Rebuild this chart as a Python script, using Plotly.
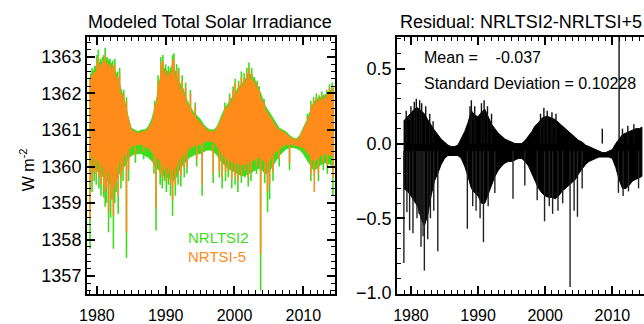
import plotly.graph_objects as go

# ---------------- data ----------------
years = [1978.9, 1979.5,
         1980.0, 1980.5, 1981.0, 1981.5, 1982.0, 1982.5, 1983.0, 1983.5, 1984.0, 1984.5,
         1985.0, 1985.5, 1986.0, 1986.5, 1987.0, 1987.5, 1988.0, 1988.5, 1989.0, 1989.5,
         1990.0, 1990.5, 1991.0, 1991.5, 1992.0, 1992.5, 1993.0, 1993.5, 1994.0, 1994.5,
         1995.0, 1995.5, 1996.0, 1996.5, 1997.0, 1997.5, 1998.0, 1998.5, 1999.0, 1999.5,
         2000.0, 2000.5, 2001.0, 2001.5, 2002.0, 2002.5, 2003.0, 2003.5, 2004.0, 2004.5,
         2005.0, 2005.5, 2006.0, 2006.5, 2007.0, 2007.5, 2008.0, 2008.5, 2009.0, 2009.5,
         2010.0, 2010.5, 2011.0, 2011.5, 2012.0, 2012.5, 2013.0, 2013.5, 2014.0, 2014.4]

# NRLTSI2 (green) daily-spread envelope, W m-2
nrltsi2_upper = [1362.4, 1362.6,
    1362.8, 1362.85, 1362.9, 1362.95, 1362.85, 1362.7, 1362.45, 1362.15, 1361.8, 1361.4,
    1361.05, 1361.0, 1360.95, 1361.0, 1361.0, 1361.1, 1361.3, 1361.65, 1362.2, 1362.75,
    1362.65, 1362.55, 1362.8, 1362.55, 1362.3, 1362.15, 1361.85, 1361.65, 1361.5, 1361.4,
    1361.3, 1361.15, 1361.05, 1361.0, 1361.0, 1361.1, 1361.35, 1361.55, 1361.7, 1361.85,
    1361.95, 1362.15, 1362.25, 1362.35, 1362.55, 1362.5, 1362.35, 1362.15, 1361.9, 1361.65,
    1361.5, 1361.35, 1361.2, 1361.05, 1361.0, 1360.95, 1360.85, 1360.78, 1360.75, 1360.85,
    1361.05, 1361.25, 1361.5, 1361.75, 1361.85, 1361.9, 1361.95, 1362.0, 1362.1, 1362.15]
nrltsi2_lower = [1360.1, 1360.0,
    1359.9, 1359.8, 1359.7, 1359.6, 1359.5, 1359.6, 1359.7, 1359.9, 1360.0, 1360.2,
    1360.3, 1360.35, 1360.35, 1360.35, 1360.3, 1360.25, 1360.15, 1360.0, 1359.9, 1359.8,
    1359.7, 1359.7, 1359.6, 1359.7, 1359.9, 1360.05, 1360.15, 1360.25, 1360.3, 1360.35,
    1360.35, 1360.4, 1360.45, 1360.45, 1360.4, 1360.3, 1360.15, 1360.05, 1359.95, 1359.9,
    1359.85, 1359.8, 1359.75, 1359.75, 1359.8, 1359.85, 1359.9, 1359.95, 1359.9, 1359.8,
    1359.85, 1360.0, 1360.15, 1360.3, 1360.4, 1360.48, 1360.52, 1360.52, 1360.5, 1360.45,
    1360.35, 1360.2, 1360.05, 1359.9, 1359.95, 1360.05, 1360.1, 1360.1, 1360.05, 1360.05]

# NRLTSI-5 (orange) envelope
nrtsi5_upper = [1362.25, 1362.5,
    1362.6, 1362.7, 1362.75, 1362.8, 1362.7, 1362.55, 1362.3, 1362.0, 1361.7, 1361.35,
    1361.0, 1360.95, 1360.9, 1360.95, 1360.95, 1361.05, 1361.2, 1361.55, 1362.05, 1362.6,
    1362.5, 1362.4, 1362.65, 1362.4, 1362.15, 1362.0, 1361.75, 1361.55, 1361.4, 1361.3,
    1361.2, 1361.1, 1361.0, 1360.95, 1360.95, 1361.05, 1361.25, 1361.45, 1361.6, 1361.75,
    1361.85, 1362.05, 1362.15, 1362.25, 1362.4, 1362.35, 1362.2, 1362.0, 1361.8, 1361.55,
    1361.4, 1361.25, 1361.1, 1361.0, 1360.95, 1360.9, 1360.8, 1360.75, 1360.72, 1360.8,
    1361.0, 1361.2, 1361.4, 1361.65, 1361.75, 1361.8, 1361.85, 1361.9, 1362.0, 1362.05]
nrtsi5_lower = [1360.4, 1360.3,
    1360.2, 1360.1, 1360.0, 1359.9, 1359.8, 1359.9, 1360.0, 1360.2, 1360.3, 1360.45,
    1360.55, 1360.6, 1360.6, 1360.6, 1360.55, 1360.5, 1360.4, 1360.3, 1360.2, 1360.1,
    1360.0, 1360.0, 1359.9, 1360.0, 1360.2, 1360.3, 1360.4, 1360.5, 1360.55, 1360.6,
    1360.6, 1360.65, 1360.7, 1360.7, 1360.65, 1360.55, 1360.4, 1360.3, 1360.2, 1360.15,
    1360.1, 1360.1, 1360.05, 1360.05, 1360.1, 1360.15, 1360.2, 1360.25, 1360.2, 1360.1,
    1360.15, 1360.3, 1360.4, 1360.5, 1360.55, 1360.6, 1360.62, 1360.6, 1360.58, 1360.55,
    1360.5, 1360.4, 1360.3, 1360.15, 1360.2, 1360.3, 1360.35, 1360.35, 1360.3, 1360.3]

# sunspot dips (daily minima)
dip_years = [1979.0, 1979.3, 1979.6, 1979.9, 1980.3, 1980.6, 1981.0, 1981.2, 1981.4, 1981.7,
             1982.0, 1982.2, 1982.4, 1982.6, 1982.8, 1983.1, 1983.5, 1983.8, 1984.3, 1984.6,
             1985.6, 1986.8, 1988.3, 1988.6, 1989.2, 1989.5, 1989.8, 1990.1, 1990.4, 1990.7,
             1991.0, 1991.4, 1991.8, 1992.2, 1992.7, 1993.1, 1994.5, 1995.3, 1996.9, 1997.8,
             1998.2, 1998.7, 1999.1, 1999.6, 2000.1, 2000.5, 2001.0, 2001.5, 2002.0, 2002.4,
             2003.2, 2003.8, 2004.4, 2004.8, 2005.1, 2005.6, 2006.5, 2008.0, 2011.1, 2011.6,
             2012.2, 2012.9, 2013.5, 2014.3]
nrltsi2_dips = [1357.75, 1359.3, 1359.6, 1359.5, 1359.4, 1359.2, 1359.15, 1358.9, 1359.0, 1358.2,
                1358.6, 1359.1, 1357.75, 1359.0, 1359.3, 1358.7, 1359.4, 1359.6, 1357.5, 1359.6,
                1360.1, 1360.2, 1359.8, 1358.25, 1359.5, 1359.4, 1359.6, 1359.3, 1359.5, 1359.2,
                1358.65, 1359.2, 1359.5, 1359.45, 1359.7, 1359.8, 1360.0, 1359.2, 1359.55, 1359.7,
                1359.4, 1359.6, 1359.7, 1359.4, 1359.5, 1359.3, 1359.55, 1359.7, 1359.45, 1359.6,
                1359.8, 1356.6, 1359.55, 1358.75, 1359.1, 1359.6, 1360.0, 1359.9, 1359.6, 1359.75,
                1359.6, 1359.9, 1359.8, 1359.2]
nrtsi5_dips = [1358.55, 1359.6, 1359.85, 1359.8, 1359.7, 1359.5, 1359.5, 1359.3, 1359.4, 1358.75,
               1359.1, 1359.5, 1358.65, 1359.4, 1359.6, 1359.2, 1359.7, 1359.9, 1358.2, 1359.9,
               1360.3, 1360.4, 1360.0, 1358.85, 1359.8, 1359.7, 1359.9, 1359.6, 1359.8, 1359.5,
               1359.1, 1359.5, 1359.8, 1359.75, 1359.95, 1360.0, 1360.2, 1359.5, 1359.8, 1359.9,
               1359.7, 1359.85, 1359.9, 1359.65, 1359.75, 1359.6, 1359.75, 1359.9, 1359.7, 1359.85,
               1360.0, 1357.6, 1359.8, 1359.3, 1359.5, 1359.85, 1360.2, 1360.1, 1359.8, 1359.3,
               1359.8, 1360.1, 1360.0, 1359.7]

# bright (facular) excursions above the envelope
peak_years = [1979.1, 1979.3, 1979.7, 1980.0, 1980.2, 1980.5, 1980.8, 1981.0, 1981.2, 1981.5,
              1981.9, 1982.3, 1982.6, 1983.0, 1983.3, 1983.9, 1984.3, 1988.4, 1988.9, 1989.3,
              1989.6, 1990.0, 1990.4, 1990.7, 1991.0, 1991.2, 1991.6, 1991.9, 1992.4, 1992.9,
              1993.6, 1994.3, 1998.6, 1999.3, 1999.8, 2000.1, 2000.6, 2001.0, 2001.4, 2001.8,
              2002.1, 2002.5, 2002.9, 2003.3, 2003.6, 2004.3, 2010.6, 2011.1, 2011.5, 2011.9,
              2012.3, 2012.7, 2013.0, 2013.4, 2013.8, 2014.2]
nrltsi2_peaks = [1362.55, 1362.7, 1362.75, 1363.05, 1363.2, 1362.95, 1363.0, 1363.05, 1363.25, 1363.0,
                 1362.95, 1362.9, 1362.95, 1362.6, 1362.7, 1362.1, 1361.9, 1361.8, 1362.5, 1363.0,
                 1363.05, 1362.8, 1362.75, 1362.7, 1363.05, 1363.1, 1362.8, 1362.7, 1362.5, 1362.3,
                 1362.1, 1361.75, 1361.75, 1362.0, 1362.2, 1362.4, 1362.35, 1362.6, 1362.55, 1362.7,
                 1362.85, 1362.7, 1362.45, 1362.35, 1362.2, 1361.85, 1361.45, 1361.8, 1361.9, 1362.0,
                 1361.95, 1362.05, 1361.85, 1362.1, 1362.25, 1362.3]
nrtsi5_peaks = [1362.4, 1362.55, 1362.6, 1362.85, 1363.0, 1362.8, 1362.85, 1362.9, 1363.05, 1362.85,
                1362.8, 1362.75, 1362.8, 1362.45, 1362.55, 1362.0, 1361.8, 1361.7, 1362.35, 1362.85,
                1362.9, 1362.65, 1362.6, 1362.55, 1362.9, 1362.95, 1362.65, 1362.55, 1362.35, 1362.15,
                1362.0, 1361.65, 1361.65, 1361.9, 1362.1, 1362.3, 1362.25, 1362.45, 1362.4, 1362.55,
                1362.7, 1362.55, 1362.35, 1362.25, 1362.1, 1361.75, 1361.35, 1361.7, 1361.8, 1361.9,
                1361.85, 1361.95, 1361.75, 1362.0, 1362.15, 1362.2]

# Residual NRLTSI2 - NRLTSI-5 envelope
resid_upper = [0.15, 0.18,
    0.2, 0.23, 0.24, 0.22, 0.2, 0.16, 0.12, 0.09, 0.06, 0.03,
    0.01, -0.01, -0.02, -0.02, -0.01, 0.03, 0.08, 0.14, 0.22, 0.19,
    0.18, 0.21, 0.23, 0.18, 0.13, 0.1, 0.07, 0.05, 0.03, 0.02,
    0.01, 0.0, 0.0, 0.0, 0.02, 0.05, 0.08, 0.12, 0.14, 0.17,
    0.18, 0.18, 0.17, 0.16, 0.14, 0.12, 0.1, 0.08, 0.06, 0.04,
    0.02, 0.01, -0.01, -0.02, -0.03, -0.04, -0.05, -0.06, -0.06, -0.05,
    -0.04, 0.0, 0.03, 0.06, 0.07, 0.08, 0.09, 0.1, 0.1, 0.11]
resid_lower = [-0.3, -0.32,
    -0.35, -0.38, -0.42, -0.5, -0.55, -0.48, -0.35, -0.25, -0.2, -0.14,
    -0.1, -0.08, -0.08, -0.08, -0.08, -0.1, -0.15, -0.22, -0.3, -0.33,
    -0.35, -0.4, -0.4, -0.35, -0.28, -0.22, -0.18, -0.15, -0.13, -0.12,
    -0.12, -0.11, -0.1, -0.1, -0.12, -0.15, -0.2, -0.25, -0.3, -0.33,
    -0.35, -0.36, -0.36, -0.37, -0.35, -0.32, -0.3, -0.28, -0.26, -0.24,
    -0.2, -0.17, -0.14, -0.12, -0.11, -0.1, -0.09, -0.09, -0.09, -0.09,
    -0.1, -0.16, -0.24, -0.3, -0.3, -0.28, -0.25, -0.24, -0.23, -0.22]
resid_dip_years = [1978.95, 1979.4, 1979.8, 1980.3, 1980.9, 1981.2, 1981.5, 1981.8, 1982.0, 1982.5,
                   1982.9, 1983.4, 1984.0, 1988.4, 1989.2, 1989.7, 1990.3, 1990.8, 1991.5, 1992.5,
                   1995.2, 1996.96, 1998.8, 1999.9, 2000.6, 2001.1, 2001.9, 2002.6, 2003.7, 2004.3,
                   2004.8, 2005.5, 2010.9, 2011.6, 2012.4, 2013.9]
resid_dips = [-0.8, -0.46, -0.58, -0.6, -0.5, -0.47, -0.69, -0.62, -0.85, -0.64,
              -0.5, -0.45, -0.72, -0.57, -0.42, -0.45, -0.5, -0.66, -0.42, -0.33,
              -0.37, -0.28, -0.38, -0.52, -0.42, -0.47, -0.45, -0.4, -0.96, -0.45,
              -0.49, -0.3, -0.33, -0.35, -0.32, -0.3]
resid_peak_years = [1979.3, 1980.0, 1980.5, 1980.8, 1981.3, 1981.6, 1982.2, 1982.8, 1983.3, 1988.8,
                    1989.0, 1989.5, 1990.5, 1990.9, 1991.4, 1992.0, 1999.3, 1999.8, 2000.3, 2001.0,
                    2001.6, 2008.5, 2011.0, 2011.5, 2012.3, 2013.2]
resid_peaks = [0.22, 0.25, 0.28, 0.3, 0.29, 0.27, 0.25, 0.2, 0.15, 0.25,
               0.29, 0.25, 0.27, 0.29, 0.25, 0.2, 0.2, 0.24, 0.22, 0.21,
               0.2, 0.1, 0.75, 0.1, 0.12, 0.13]

x_ticks = [1980, 1990, 2000, 2010]
left_title = "Modeled Total Solar Irradiance"
right_title = "Residual: NRLTSI2-NRLTSI+5"

GREEN = "#3ddc1e"
ORANGE = "#ff8c1a"
FONT = "Liberation Sans"

fig = go.Figure()


def band(xs, up, lo, color, xa, ya):
    fig.add_trace(go.Scatter(x=xs + xs[::-1], y=up + lo[::-1], fill="toself", mode="lines",
                             fillcolor=color, line=dict(color=color, width=1),
                             xaxis=xa, yaxis=ya, hoverinfo="skip", showlegend=False))


def spikes(xs, ends, base, color, xa, ya, width=1.6):
    sx, sy = [], []
    for x, e in zip(xs, ends):
        sx += [x, x, None]
        sy += [base, e, None]
    fig.add_trace(go.Scatter(x=sx, y=sy, mode="lines", line=dict(color=color, width=width),
                             xaxis=xa, yaxis=ya, hoverinfo="skip", showlegend=False))


# left panel
band(years, nrltsi2_upper, nrltsi2_lower, GREEN, "x", "y")
spikes(dip_years, nrltsi2_dips, 1360.6, GREEN, "x", "y")
spikes(peak_years, nrltsi2_peaks, 1361.3, GREEN, "x", "y")
band(years, nrtsi5_upper, nrtsi5_lower, ORANGE, "x", "y")
spikes(dip_years, nrtsi5_dips, 1360.6, ORANGE, "x", "y")
spikes(peak_years, nrtsi5_peaks, 1361.3, ORANGE, "x", "y")

# right panel
band(years, resid_upper, resid_lower, "black", "x2", "y2")
spikes(resid_dip_years, resid_dips, -0.05, "#222222", "x2", "y2", 1.4)
spikes(resid_peak_years, resid_peaks, 0.0, "#111111", "x2", "y2", 1.4)

axis_common = dict(showline=True, linecolor="black", linewidth=2, ticks="inside",
                   tickcolor="black", tickwidth=1.5, ticklen=8, showgrid=False,
                   zeroline=False, mirror="allticks")
minor_x = dict(dtick=1, ticks="inside", ticklen=4, tickcolor="black", tickwidth=1)

fig.update_layout(
    width=644, height=324,
    margin=dict(l=0, r=0, t=37, b=29),
    paper_bgcolor="white", plot_bgcolor="white",
    font=dict(family=FONT, color="black"),
    xaxis=dict(axis_common, domain=[80 / 644, 331 / 644], range=[1978.565, 2014.593],
               tickvals=x_ticks, ticktext=[str(v) for v in x_ticks],
               tickfont=dict(size=16), ticklabelstandoff=6, minor=minor_x),
    yaxis=dict(axis_common, range=[1356.51, 1363.545], dtick=1, tickformat="d",
               tickfont=dict(size=18), ticklabelstandoff=0,
               minor=dict(dtick=0.2, ticks="inside", ticklen=4, tickcolor="black", tickwidth=1)),
    xaxis2=dict(axis_common, domain=[394 / 644, 1.0], range=[1977.94, 2014.71], anchor="y2",
                tickvals=x_ticks, ticktext=[str(v) for v in x_ticks],
                tickfont=dict(size=16), ticklabelstandoff=6, minor=minor_x),
    yaxis2=dict(axis_common, anchor="x2", range=[-1.0067, 0.7133], dtick=0.5, tickformat=".1f",
                tickfont=dict(size=18), ticklabelstandoff=0, mirror=False,
                minor=dict(dtick=0.1, ticks="inside", ticklen=4, tickcolor="black", tickwidth=1)),
)

# text: (text, x_px, y_px, anchor, size, color, angle)
texts = [
    (left_title, 205, 22, "center", 18, "black", 0),
    (right_title, 395, 22, "left", 18, "black", 0),
    ("W m<sup>-2</sup>", 20, 170, "center", 16, "black", -90),
    ("NRLTSI2", 180, 238, "left", 15, GREEN, 0),
    ("NRTSI-5", 180, 257, "left", 15, ORANGE, 0),
    ("Mean =\u00a0\u00a0\u00a0\u00a0-0.037", 419, 58, "left", 16, "black", 0),
    ("Standard Deviation = 0.10228", 419, 84, "left", 16, "black", 0),
]
for t, xp, yp, anc, size, col, ang in texts:
    fig.add_annotation(text=t, xref="paper", yref="paper", x=xp / 644, y=(295 - yp) / 258,
                       xanchor=anc, yanchor="middle", showarrow=False, textangle=ang,
                       font=dict(size=size, color=col))

fig.write_html("out.html")
